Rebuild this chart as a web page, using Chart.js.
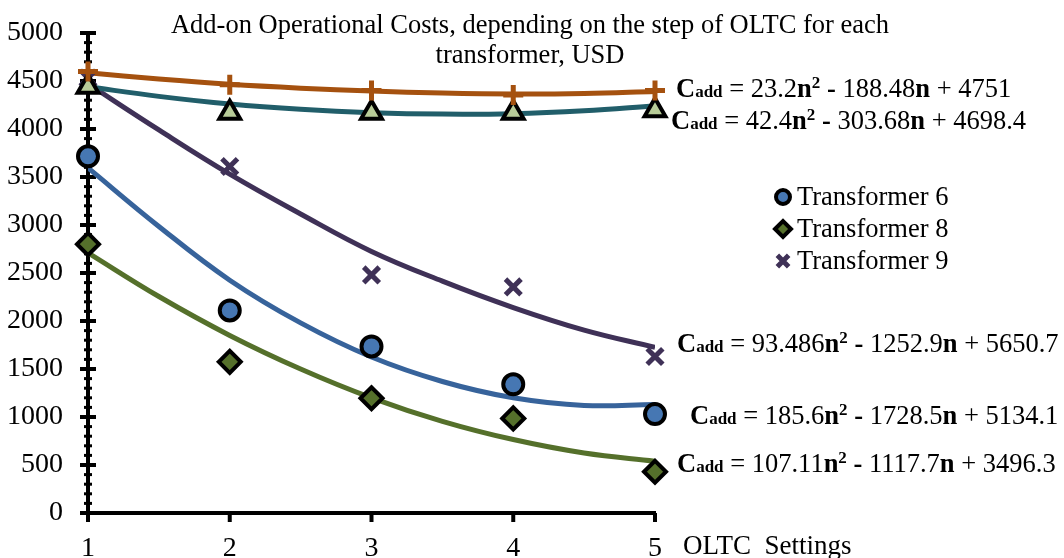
<!DOCTYPE html>
<html>
<head>
<meta charset="utf-8">
<script src="https://cdn.jsdelivr.net/npm/chart.js@4.4.0/dist/chart.umd.min.js"></script>
<style>
  html, body { margin: 0; padding: 0; background: #fff; }
  #wrap { position: relative; width: 1064px; height: 558px; }
</style>
</head>
<body>
<div id="wrap"><canvas id="costChart"></canvas></div>
<script>
// OLTC step (x) and tick labels
const steps = [1, 2, 3, 4, 5];
const xTickLabels = ['1', '2', '3', '4', '5'];
const yTickLabels = ['0', '500', '1000', '1500', '2000', '2500', '3000', '3500', '4000', '4500', '5000'];

// measured points, USD
const transformer6 = [3715, 2110, 1735, 1340, 1030];
const transformer8 = [2800, 1575, 1195, 985, 430];
const transformer9 = [4530, 3610, 2480, 2355, 1630];
const plusSeries = [4600, 4460, 4400, 4355, 4400];
const triangleSeries = [4440, 4170, 4170, 4170, 4195];

// trend curves
const trendSteps = [1, 1.5, 2, 2.5, 3, 3.5, 4, 4.5, 5];
const trendPlus = [4585, 4520, 4465, 4425, 4395, 4375, 4365, 4370, 4390];
const trendTriangle = [4440, 4340, 4260, 4205, 4170, 4155, 4160, 4190, 4240];
const trend9 = [4470, 3990, 3530, 3115, 2725, 2415, 2140, 1905, 1725];
const trend6 = [3595, 2985, 2425, 1980, 1625, 1370, 1200, 1120, 1130];
const trend8 = [2710, 2255, 1850, 1500, 1200, 955, 765, 625, 540];

const legendNames = ['Transformer 6', 'Transformer 8', 'Transformer 9'];
const titleLines = ['Add-on Operational Costs, depending on the step of OLTC for each', 'transformer, USD'];
const equations = [
    ['23.2', '188.48', '4751'],
    ['42.4', '303.68', '4698.4'],
    ['93.486', '1252.9', '5650.7'],
    ['185.6', '1728.5', '5134.1'],
    ['107.11', '1117.7', '3496.3']
];

const FONT = "'Liberation Serif', 'Times New Roman', serif";

const toPoints = (xs, ys) => xs.map((x, i) => ({ x: x, y: ys[i] }));

const trend = (ys, color) => ({
    type: 'line',
    data: toPoints(trendSteps, ys),
    borderColor: color,
    borderWidth: 5,
    pointRadius: 0,
    tension: 0.4,
    fill: false,
    order: 2
});

const markers = (ys, style, fillColor, strokeColor, radius, width) => ({
    type: 'scatter',
    data: toPoints(steps, ys),
    pointStyle: style,
    pointRadius: radius,
    pointBackgroundColor: fillColor,
    pointBorderColor: strokeColor,
    pointBorderWidth: width,
    borderWidth: width,
    clip: false,
    order: 1
});

const ticksPlugin = {
    id: 'ticksPlugin',
    beforeDatasetsDraw(chart) {
        const { ctx, scales: { x, y } } = chart;
        ctx.save();
        ctx.strokeStyle = '#000';
        y.ticks.forEach(t => {
            const py = y.getPixelForValue(t.value);
            const major = t.value % 500 === 0;
            const l = major ? 8 : 4;
            ctx.lineWidth = major ? 4 : 3;
            ctx.beginPath();
            ctx.moveTo(x.left - l, py);
            ctx.lineTo(x.left + l, py);
            ctx.stroke();
        });
        ctx.lineWidth = 4;
        x.ticks.forEach(t => {
            const px = x.getPixelForValue(t.value);
            ctx.beginPath();
            ctx.moveTo(px, y.bottom);
            ctx.lineTo(px, y.bottom + 9);
            ctx.stroke();
        });
        ctx.restore();
    }
};

function drawEquation(ctx, coeffs, left, base) {
    const parts = [
        ['C', 'bold', 26.5, 0],
        ['add', 'bold', 17, 0],
        [' = ' + coeffs[0], '', 26.5, 0],
        ['n', 'bold', 26.5, 0],
        ['2', 'bold', 17, -9],
        [' - ', 'bold', 26.5, 0],
        [coeffs[1], '', 26.5, 0],
        ['n', 'bold', 26.5, 0],
        [' + ' + coeffs[2], '', 26.5, 0]
    ];
    let px = left;
    parts.forEach(([txt, weight, size, dy]) => {
        ctx.font = `${weight} ${size}px ${FONT}`;
        ctx.fillText(txt, px, base + dy);
        px += ctx.measureText(txt).width;
    });
}

const textPlugin = {
    id: 'textPlugin',
    afterDraw(chart) {
        const { ctx } = chart;
        ctx.save();
        ctx.fillStyle = '#000';
        ctx.textBaseline = 'alphabetic';

        // title
        ctx.textAlign = 'center';
        ctx.font = `26.5px ${FONT}`;
        ctx.fillText(titleLines[0], 530, 33);
        ctx.fillText(titleLines[1], 530, 63);

        // x axis name
        ctx.textAlign = 'left';
        ctx.font = `27px ${FONT}`;
        ctx.fillText('OLTC  Settings', 683, 554);

        // trend equations
        drawEquation(ctx, equations[0], 676, 97);
        drawEquation(ctx, equations[1], 671, 129);
        drawEquation(ctx, equations[2], 677, 352);
        drawEquation(ctx, equations[3], 690, 424);
        drawEquation(ctx, equations[4], 677, 472);

        // legend
        const legendItems = [
            { style: 'circle', fill: '#4677b3', stroke: '#000', r: 7, w: 4 },
            { style: 'rectRot', fill: '#55702b', stroke: '#000', r: 8, w: 4 },
            { style: 'crossRot', fill: '#3f3157', stroke: '#3f3157', r: 8, w: 5 }
        ];
        const rows = [197, 229, 261];
        legendItems.forEach((it, i) => {
            ctx.fillStyle = it.fill;
            ctx.strokeStyle = it.stroke;
            ctx.lineWidth = it.w;
            Chart.helpers.drawPoint(ctx, { pointStyle: it.style, radius: it.r, borderWidth: it.w, rotation: 0 }, 783, rows[i]);
            ctx.fillStyle = '#000';
            ctx.font = `26.5px ${FONT}`;
            ctx.textBaseline = 'middle';
            ctx.fillText(legendNames[i], 797, rows[i] + 1);
        });
        ctx.restore();
    }
};

new Chart(document.getElementById('costChart').getContext('2d'), {
    data: {
        datasets: [
            trend(trendPlus, '#a5510f'),
            trend(trendTriangle, '#215e6a'),
            trend(trend9, '#3f3157'),
            trend(trend6, '#37639b'),
            trend(trend8, '#55702b'),
            markers(plusSeries, 'cross', '#a5510f', '#a5510f', 10, 5),
            markers(triangleSeries, 'triangle', '#b8cc98', '#000', 12, 4),
            markers(transformer9, 'crossRot', '#3f3157', '#3f3157', 11, 5),
            markers(transformer6, 'circle', '#4677b3', '#000', 10, 4),
            markers(transformer8, 'rectRot', '#55702b', '#000', 11, 4)
        ]
    },
    options: {
        responsive: true,
        maintainAspectRatio: false,
        animation: false,
        layout: {
            padding: { top: 33, right: 409, bottom: 0, left: 0 }
        },
        plugins: {
            legend: { display: false },
            title: { display: false },
            tooltip: { enabled: false }
        },
        scales: {
            x: {
                type: 'linear',
                min: 1,
                max: 5,
                afterFit: (s) => { s.height = 45; s.paddingLeft = 0; s.paddingRight = 0; },
                border: { display: true, color: '#000', width: 4 },
                grid: { display: true, drawOnChartArea: false, drawTicks: false },
                ticks: {
                    stepSize: 1,
                    padding: 19,
                    color: '#000',
                    font: { family: FONT, size: 28 },
                    callback: (v) => xTickLabels[steps.indexOf(v)]
                }
            },
            y: {
                min: 0,
                max: 5000,
                afterFit: (s) => { s.width = 88; s.paddingTop = 0; s.paddingBottom = 0; },
                border: { display: true, color: '#000', width: 4 },
                grid: { display: true, drawOnChartArea: false, drawTicks: false },
                ticks: {
                    stepSize: 100,
                    autoSkip: false,
                    padding: 25,
                    color: '#000',
                    font: { family: FONT, size: 28 },
                    callback: (v) => (v % 500 === 0 ? yTickLabels[v / 500] : '')
                }
            }
        }
    },
    plugins: [ticksPlugin, textPlugin]
});
</script>
</body>
</html>
